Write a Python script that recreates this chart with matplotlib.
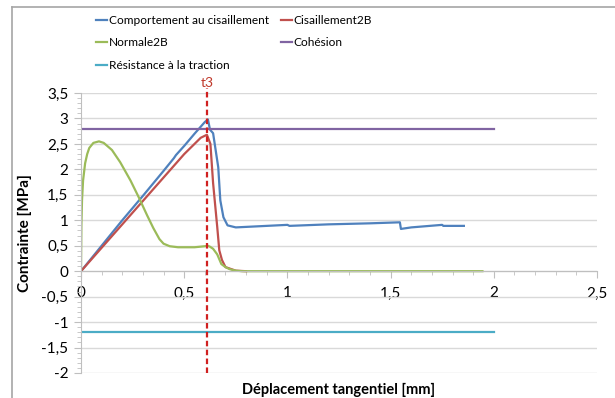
import numpy as np
import matplotlib
matplotlib.use("Agg")
import matplotlib.pyplot as plt
from matplotlib.lines import Line2D
from matplotlib.ticker import MultipleLocator, FuncFormatter

plt.rcParams['font.family'] = ['Lato', 'DejaVu Sans']

# --- data ---
comp_x = [0, 0.1, 0.2, 0.3, 0.4, 0.45, 0.46, 0.5, 0.55, 0.6, 0.615, 0.625, 0.64,
          0.665, 0.675, 0.69, 0.71, 0.75, 0.85, 1.0, 1.01, 1.2, 1.4, 1.545, 1.55,
          1.6, 1.75, 1.755, 1.855]
comp_y = [0, 0.5, 1.0, 1.48, 1.97, 2.22, 2.28, 2.46, 2.7, 2.93, 2.98, 2.78, 2.71,
          2.04, 1.39, 1.06, 0.9, 0.86, 0.88, 0.91, 0.89, 0.92, 0.94, 0.96, 0.83,
          0.86, 0.91, 0.89, 0.89]

cis2b_x = [0, 0.1, 0.2, 0.3, 0.4, 0.5, 0.55, 0.58, 0.61, 0.627, 0.64, 0.66, 0.67,
           0.683, 0.7, 0.75, 0.8]
cis2b_y = [0, 0.46, 0.92, 1.38, 1.84, 2.3, 2.5, 2.62, 2.68, 2.5, 1.73, 0.87, 0.41,
           0.22, 0.08, 0.01, 0.0]

norm_x = [0, 0.002, 0.005, 0.01, 0.02, 0.03, 0.04, 0.06, 0.087, 0.11, 0.15, 0.19,
          0.24, 0.28, 0.32, 0.35, 0.38, 0.4, 0.43, 0.47, 0.55, 0.6, 0.615, 0.625,
          0.64, 0.66, 0.68, 0.7, 0.72, 0.75, 0.78, 1.0, 1.5, 1.945]
norm_y = [0, 0.9, 1.4, 1.78, 2.12, 2.3, 2.42, 2.52, 2.55, 2.52, 2.38, 2.14,
          1.78, 1.45, 1.1, 0.85, 0.63, 0.54, 0.49, 0.47, 0.47, 0.49, 0.5, 0.48,
          0.44, 0.33, 0.14, 0.08, 0.04, 0.01, 0.0, 0.0, 0.0, 0.0]

cohesion_x = [0, 2]
cohesion_y = [2.8, 2.8]

traction_x = [0, 2]
traction_y = [-1.2, -1.2]

t3 = 0.612

colors = {'comp': '#4f81bd', 'cis': '#c0504d', 'norm': '#9bbb59',
          'coh': '#8064a2', 'trac': '#4bacc6'}


def comma_fmt(v, pos):
    s = f"{v:g}"
    return s.replace('.', ',')


fig = plt.figure(figsize=(6.15, 3.98), dpi=100, facecolor='white')
ax = fig.add_axes([81 / 615, 25 / 398, 516 / 615, 280 / 398])

l_comp, = ax.plot(comp_x, comp_y, color=colors['comp'], lw=1.6)
l_cis, = ax.plot(cis2b_x, cis2b_y, color=colors['cis'], lw=1.6)
l_norm, = ax.plot(norm_x, norm_y, color=colors['norm'], lw=1.6)
l_coh, = ax.plot(cohesion_x, cohesion_y, color=colors['coh'], lw=1.6)
l_trac, = ax.plot(traction_x, traction_y, color=colors['trac'], lw=1.6)

# t3 marker
ax.plot([t3, t3], [-2, 3.6], color='#d02020', lw=1.6, ls=(0, (2.5, 1.5)),
        clip_on=False, zorder=5)
ax.text(t3, 3.69, "t3", color='#c0392b', fontsize=10, ha='center', va='center')

ax.set_xlim(0, 2.5)
ax.set_ylim(-2, 3.5)

ax.yaxis.set_major_locator(MultipleLocator(0.5))
ax.yaxis.set_minor_locator(MultipleLocator(0.1))
ax.xaxis.set_major_locator(MultipleLocator(0.5))
ax.xaxis.set_minor_locator(MultipleLocator(0.1))
ax.xaxis.set_major_formatter(FuncFormatter(comma_fmt))
ax.yaxis.set_major_formatter(FuncFormatter(comma_fmt))

ax.grid(True, axis='y', which='major', color='#d9d9d9', lw=1.0)
ax.set_axisbelow(True)

for s in ['top', 'right']:
    ax.spines[s].set_visible(False)
ax.spines['bottom'].set_position(('data', 0))
ax.spines['bottom'].set_color('#bfbfbf')
ax.spines['left'].set_color('#bfbfbf')

ax.tick_params(axis='both', which='both', colors='#bfbfbf', labelcolor='black',
               labelsize=11)
ax.tick_params(axis='x', which='major', length=5, pad=6)
ax.tick_params(axis='x', which='minor', length=3)
ax.tick_params(axis='y', which='major', length=5, pad=4)
ax.tick_params(axis='y', which='minor', length=3)

ax.set_xlabel("Déplacement tangentiel [mm]", fontweight='bold', fontsize=10.5)
ax.xaxis.set_label_coords(0.5, -0.035)
ax.set_ylabel("Contrainte [MPa]", fontweight='bold', fontsize=11)
ax.yaxis.set_label_coords(-0.095, 0.5)

handles = [l_comp, l_norm, l_trac, l_cis, l_coh]
labels = ["Comportement au cisaillement", "Normale2B", "Résistance à la traction",
          "Cisaillement2B", "Cohésion"]
fig.legend(handles, labels, ncol=2, frameon=False, loc='upper left',
           bbox_to_anchor=(96 / 615, 1 - 15 / 398), fontsize=8.6,
           handlelength=0.95, handletextpad=0.1, columnspacing=1.0,
           labelspacing=0.95, borderpad=0, borderaxespad=0)

# outer chart frame (left and top edges visible)
fig.add_artist(Line2D([12 / 615, 12 / 615], [0, 1 - 7 / 398],
                      transform=fig.transFigure, color='#a6a6a6', lw=1.2))
fig.add_artist(Line2D([12 / 615, 1], [1 - 7 / 398, 1 - 7 / 398],
                      transform=fig.transFigure, color='#a6a6a6', lw=1.2))

fig.savefig("out.png", dpi=100)
